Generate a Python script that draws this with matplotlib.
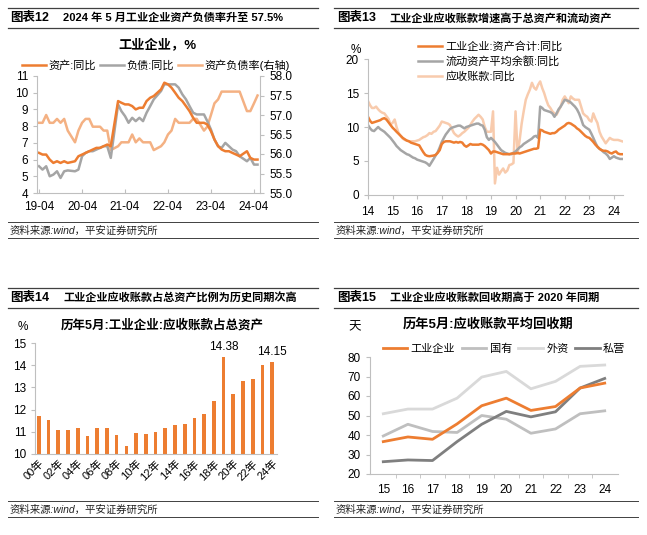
import pandas as pd
import matplotlib.pyplot as plt
from matplotlib.lines import Line2D

plt.rcParams['font.family'] = ['Liberation Sans', 'Noto Sans CJK SC', 'DejaVu Sans']
plt.rcParams['axes.unicode_minus'] = False

ORANGE = '#ED7D31'
GRAY = '#A5A5A5'
LORANGE = '#F4B183'
PALE = '#F8CBAD'
SPINE = '#BFBFBF'

# ---- 图表12: 工业企业资产/负债同比与资产负债率 (月度, 无1月)
months12 = [d for d in pd.date_range('2019-04-01', '2024-05-01', freq='MS') if d.month != 1]
asset_yoy = [6.4, 6.3, 6.3, 6.0, 5.8, 5.9, 5.8, 5.9, 5.8,
             5.9, 6.2, 6.3, 6.4, 6.5, 6.6, 6.7, 6.7, 6.8, 6.9, 6.8,
             9.5, 9.4, 9.3, 9.3, 9.2, 9.0, 9.1, 9.1, 9.5, 9.7, 9.8,
             10.2, 10.6, 10.5, 10.3, 10.0, 9.7, 9.5, 9.2, 8.9, 8.5, 8.2,
             8.2, 8.1, 7.7, 7.2, 6.8, 6.6, 6.5, 6.5, 6.4, 6.3, 6.2,
             6.5, 6.1, 6.0, 6.0]
debt_yoy = [5.6, 5.4, 5.6, 5.0, 5.1, 5.3, 4.9, 5.3, 5.35,
            5.3, 5.4, 6.2, 6.4, 6.5, 6.5, 6.6, 6.7, 6.8, 6.8, 6.1,
            9.3, 8.9, 8.6, 8.2, 8.5, 8.3, 8.5, 8.3, 8.8, 9.2, 9.6,
            10.1, 10.5, 10.5, 10.5, 10.5, 10.3, 9.9, 9.6, 9.2, 8.8, 8.7,
            8.7, 8.3, 7.8, 7.2, 6.8, 6.7, 7.0, 6.8, 6.6, 6.5, 6.2,
            5.9, 6.1, 5.7, 5.7]
debt_ratio = [56.8, 56.8, 57.0, 56.8, 56.8, 56.9, 56.8, 56.9, 56.6,
              56.3, 56.6, 56.8, 56.9, 56.9, 56.7, 56.7, 56.7, 56.6, 56.6, 56.1,
              56.2, 56.3, 56.3, 56.3, 56.5, 56.3, 56.4, 56.3, 56.3, 56.3, 56.1,
              56.2, 56.3, 56.5, 56.6, 56.9, 56.8, 56.8, 56.8, 56.8, 56.9, 56.9,
              56.6, 56.7, 57.0, 57.3, 57.4, 57.6, 57.6, 57.6, 57.6, 57.6, 57.6,
              57.1, 57.1, 57.3, 57.5]

# ---- 图表13: 资产合计/流动资产/应收账款同比 (2014-01 ~ 2024-05)
months13 = pd.date_range('2014-01-01', '2024-05-01', freq='MS')
total_asset = [11.5, 10.9, 10.6, 10.7, 10.8, 10.9, 11.0, 11.2, 11.3, 11.1, 10.7, 10.3,
               9.9, 9.6, 9.3, 9.0, 8.7, 8.4, 8.2, 8.0, 7.9, 7.7, 7.6, 7.5,
               7.4, 7.3, 6.8, 6.3, 5.9, 5.75, 5.7, 5.75, 5.8, 5.9, 6.2, 6.6,
               7.5, 7.8, 7.9, 7.9, 7.9, 7.8, 7.7, 7.8, 7.7, 7.8, 7.7, 7.3,
               7.1, 7.3, 7.5, 7.4, 7.4, 7.4, 7.4, 7.5, 7.4, 7.2, 6.9, 6.6,
               6.1, 6.4, 6.4, 6.3, 6.2, 6.1, 6.0, 6.0, 6.0, 6.0, 6.1, 6.1,
               6.1, 6.2, 6.1, 6.2, 6.3, 6.4, 6.5, 6.6, 6.7, 6.8, 6.8, 6.9,
               9.6, 9.5, 9.3, 9.2, 9.1, 9.0, 9.1, 9.1, 9.3, 9.6, 9.8, 10.0,
               10.2, 10.5, 10.6, 10.5, 10.3, 10.1, 9.8, 9.6, 9.3, 9.0, 8.7, 8.5,
               8.4, 8.1, 7.8, 7.4, 7.1, 6.8, 6.6, 6.5, 6.5, 6.4, 6.2, 6.1,
               6.3, 6.4, 6.1, 6.0, 6.0]
current_asset = [10.3, 9.8, 9.5, 9.4, 9.7, 10.0, 9.7, 9.5, 9.3, 9.0, 8.7, 8.4,
                 8.0, 7.6, 7.2, 6.9, 6.6, 6.4, 6.2, 6.0, 5.9, 5.7, 5.5, 5.4,
                 5.2, 5.1, 5.0, 4.9, 4.8, 4.6, 4.3, 4.8, 5.3, 5.8, 6.3, 7.0,
                 7.8, 8.4, 8.9, 9.3, 9.7, 9.9, 10.0, 10.1, 10.2, 10.2, 10.0, 9.8,
                 10.0, 10.1, 10.2, 10.3, 10.4, 10.5, 10.5, 10.3, 10.2, 9.6, 8.5, 8.1,
                 8.4, 8.1, 7.8, 7.4, 7.0, 6.6, 6.4, 6.2, 6.1, 6.0, 6.0, 6.2,
                 6.4, 6.7, 7.0, 7.2, 7.5, 7.7, 7.9, 8.1, 8.3, 8.6, 8.7, 8.4,
                 13.0, 12.8, 12.5, 12.4, 12.3, 12.2, 12.0, 11.5, 12.0, 12.6, 13.0, 13.5,
                 14.0, 13.9, 13.8, 13.6, 13.3, 13.0, 12.6, 12.0, 11.2, 10.3, 10.0, 9.8,
                 9.6, 9.0, 8.4, 7.7, 7.1, 6.8, 6.6, 6.3, 6.1, 5.8, 5.3, 5.5,
                 5.7, 5.5, 5.4, 5.3, 5.3]
receivable = [13.8, 13.2, 12.8, 12.8, 13.0, 12.6, 12.3, 12.1, 12.0, 11.6, 11.2, 10.4,
              10.6, 11.1, 10.0, 9.1, 8.7, 8.3, 8.1, 8.0, 7.9, 7.9, 7.9, 7.9,
              8.0, 8.1, 8.3, 8.5, 8.6, 8.8, 9.1, 9.0, 9.3, 9.4, 9.8, 10.2,
              10.8, 10.7, 10.6, 10.5, 10.3, 9.7, 9.1, 8.8, 8.6, 8.8, 9.1, 9.3,
              9.6, 9.9, 10.3, 10.8, 11.2, 11.5, 11.8, 11.5, 11.1, 10.0, 9.3, 9.3,
              9.3, 12.3, 1.7, 4.0, 3.0, 3.5, 3.9, 3.3, 3.6, 4.4, 4.5, 4.7,
              12.3, 6.1, 8.0, 10.5, 12.3, 14.0, 14.8, 15.5, 16.5, 15.8, 15.5, 16.2,
              16.7, 15.7, 15.0, 14.0, 13.2, 12.8, 12.3, 12.0, 11.8, 12.4, 13.0, 14.0,
              14.5, 14.0, 13.5, 14.5, 14.2, 14.0, 14.0, 14.0, 13.0, 12.0, 11.7, 11.5,
              11.0, 10.8, 12.0, 11.2, 10.6, 9.3, 8.6, 8.1, 7.6, 8.0, 8.4, 8.2,
              8.1, 8.1, 8.1, 8.0, 7.9]

# ---- 图表14: 历年5月应收账款占总资产
years14 = ['%02d年' % y for y in range(0, 25)]
share14 = [11.69, 11.55, 11.07, 11.09, 11.18, 10.81, 11.15, 11.18, 10.87, 10.37,
           10.96, 10.88, 10.99, 11.15, 11.31, 11.36, 11.63, 11.81, 12.39, 14.38,
           12.70, 13.28, 13.39, 14.03, 14.15]

# ---- 图表15: 历年5月应收账款平均回收期
years15 = [15, 16, 17, 18, 19, 20, 21, 22, 23, 24]
days_all = [36.6, 39.0, 37.8, 45.7, 55.0, 58.9, 52.6, 54.6, 64.1, 66.6]
days_soe = [39.5, 45.5, 41.8, 41.3, 50.0, 48.1, 40.9, 43.1, 50.9, 52.4]
days_foreign = [50.9, 53.3, 53.3, 58.9, 69.7, 72.6, 63.7, 67.5, 75.2, 75.9]
days_private = [26.3, 27.2, 26.9, 36.6, 45.5, 52.1, 49.3, 51.9, 64.1, 69.0]

W, H = 647, 535
fig = plt.figure(figsize=(W / 100, H / 100), dpi=100)


def fx(x):
    return x / W


def fy(y):
    return 1 - y / H


def hline(y, x0, x1, lw=0.9):
    fig.add_artist(Line2D([fx(x0), fx(x1)], [fy(y), fy(y)], color='#404040', lw=lw))


def frame(x0, x1, top, src_y):
    hline(top, x0, x1)
    hline(top + 20, x0, x1)
    hline(src_y - 9, x0, x1, 0.7)
    hline(src_y + 7, x0, x1, 0.7)
    fig.text(fx(x0 + 2), fy(src_y), '资料来源:wind，平安证券研究所', fontsize=7.5,
             style='italic', va='center', color='#222222')


def style_axes(ax):
    for s in ['top', 'right']:
        ax.spines[s].set_visible(False)
    for s in ['left', 'bottom', 'right']:
        ax.spines[s].set_color(SPINE)
    ax.tick_params(colors=SPINE, labelcolor='black', labelsize=8.5, length=3)


# headers
frame(8, 318, 8, 231)
fig.text(fx(10), fy(18), '图表12', fontsize=9, weight='bold', va='center')
fig.text(fx(63), fy(18), '2024 年 5 月工业企业资产负债率升至 57.5%', fontsize=8, weight='bold', va='center')
frame(334, 638, 8, 231)
fig.text(fx(337), fy(18), '图表13', fontsize=9, weight='bold', va='center')
fig.text(fx(390), fy(18), '工业企业应收账款增速高于总资产和流动资产', fontsize=8, weight='bold', va='center')
frame(8, 318, 288, 510)
fig.text(fx(10), fy(298), '图表14', fontsize=9, weight='bold', va='center')
fig.text(fx(63), fy(298), '工业企业应收账款占总资产比例为历史同期次高', fontsize=8, weight='bold', va='center')
frame(334, 638, 288, 510)
fig.text(fx(337), fy(298), '图表15', fontsize=9, weight='bold', va='center')
fig.text(fx(390), fy(298), '工业企业应收账款回收期高于 2020 年同期', fontsize=8, weight='bold', va='center')

# ---------------- 图表12
ax1 = fig.add_axes([fx(37), fy(193), fx(260) - fx(37), fy(76) - fy(193)])
ax1r = ax1.twinx()
l3, = ax1r.plot(months12, debt_ratio, color=LORANGE, lw=1.8)
l2, = ax1.plot(months12, debt_yoy, color=GRAY, lw=1.8)
l1, = ax1.plot(months12, asset_yoy, color=ORANGE, lw=1.8)
ax1.set_zorder(ax1r.get_zorder() + 1)
ax1.patch.set_visible(False)
ax1.set_ylim(4, 11)
ax1.set_yticks(range(4, 12))
ax1r.set_ylim(55, 58)
ax1r.set_yticks([55 + 0.5 * i for i in range(7)])
ax1r.set_yticklabels(['%.1f' % (55 + 0.5 * i) for i in range(7)])
ax1.set_xlim(pd.Timestamp('2019-03-15'), pd.Timestamp('2024-05-22'))
xt = [pd.Timestamp('%d-04-01' % y) for y in range(2019, 2025)]
ax1.set_xticks(xt)
ax1.set_xticklabels([d.strftime('%y-%m') for d in xt])
style_axes(ax1)
style_axes(ax1r)
ax1r.spines['right'].set_visible(True)
ax1r.spines['left'].set_visible(False)
ax1r.spines['bottom'].set_visible(False)
ax1.tick_params(axis='x', direction='in', pad=6)
fig.text(fx(157), fy(45), '工业企业，%', fontsize=9.5, weight='bold', ha='center', va='center')
ax1.legend([l1, l2, l3], ['资产:同比', '负债:同比', '资产负债率(右轴)'], loc='center',
           bbox_to_anchor=(fx(156), fy(65)), bbox_transform=fig.transFigure, ncol=3,
           frameon=False, fontsize=8, handlelength=2.2, handletextpad=0.2,
           columnspacing=0.35, borderpad=0)

# ---------------- 图表13
ax2 = fig.add_axes([fx(368), fy(195), fx(623) - fx(368), fy(59) - fy(195)])
m1, = ax2.plot(months13, receivable, color=PALE, lw=1.8)
m2, = ax2.plot(months13, current_asset, color=GRAY, lw=1.8)
m3, = ax2.plot(months13, total_asset, color=ORANGE, lw=1.8)
ax2.set_ylim(0, 20)
ax2.set_yticks([0, 5, 10, 15, 20])
ax2.set_xlim(pd.Timestamp('2014-01-01'), pd.Timestamp('2024-05-15'))
xt2 = [pd.Timestamp('%d-01-01' % y) for y in range(2014, 2025)]
ax2.set_xticks(xt2)
ax2.set_xticklabels([d.strftime('%y') for d in xt2])
style_axes(ax2)
ax2.tick_params(axis='x', pad=5)
fig.text(fx(356), fy(50), '%', fontsize=8.5, ha='center', va='center')
ax2.legend([m3, m2, m1], ['工业企业:资产合计:同比', '流动资产平均余额:同比', '应收账款:同比'],
           loc='upper left', bbox_to_anchor=(fx(412), fy(36)), bbox_transform=fig.transFigure,
           frameon=False, fontsize=8, handlelength=2.2, handletextpad=0.3,
           labelspacing=0.35, borderpad=0)

# ---------------- 图表14
ax3 = fig.add_axes([fx(35), fy(454), fx(277) - fx(35), fy(343) - fy(454)])
x3 = list(range(len(years14)))
ax3.bar(x3, share14, width=0.38, color=ORANGE)
ax3.set_ylim(10, 15)
ax3.set_yticks(range(10, 16))
ax3.set_xlim(-0.4, 24.5)
ax3.set_xticks(x3[::2])
ax3.set_xticklabels(years14[::2], rotation=45, ha='right', rotation_mode='anchor')
style_axes(ax3)
ax3.tick_params(axis='x', length=0, pad=3, labelsize=8)
for i in (19, 24):
    ax3.annotate('%.2f' % share14[i], (x3[i], share14[i]), xytext=(0, 5),
                 textcoords='offset points', ha='center', fontsize=8.5)
fig.text(fx(23), fy(327), '%', fontsize=8.5, ha='center', va='center')
fig.text(fx(162), fy(325), '历年5月:工业企业:应收账款占总资产', fontsize=9,
         weight='bold', ha='center', va='center')

# ---------------- 图表15
ax4 = fig.add_axes([fx(370), fy(474), fx(618) - fx(370), fy(357) - fy(474)])
n1, = ax4.plot(years15, days_foreign, color='#D9D9D9', lw=2)
n2, = ax4.plot(years15, days_soe, color='#BFBFBF', lw=2)
n3, = ax4.plot(years15, days_private, color='#7F7F7F', lw=2)
n4, = ax4.plot(years15, days_all, color=ORANGE, lw=2)
ax4.set_ylim(20, 80)
ax4.set_yticks(range(20, 81, 10))
ax4.set_xlim(14.46, 24.54)
ax4.set_xticks(years15)
ax4.set_xticks([y + 0.5 for y in years15[:-1]], minor=True)
style_axes(ax4)
ax4.tick_params(axis='x', which='major', length=0, pad=7)
ax4.tick_params(axis='x', which='minor', length=3, colors=SPINE)
fig.text(fx(355), fy(327), '天', fontsize=9, ha='center', va='center')
fig.text(fx(488), fy(325), '历年5月:应收账款平均回收期', fontsize=9.5,
         weight='bold', ha='center', va='center')
ax4.legend([n4, n2, n1, n3], ['工业企业', '国有', '外资', '私营'], loc='center',
           bbox_to_anchor=(fx(504), fy(349)), bbox_transform=fig.transFigure, ncol=4,
           frameon=False, fontsize=8, handlelength=2.2, handletextpad=0.3,
           columnspacing=0.6, borderpad=0)

fig.savefig('out.png', dpi=100)
